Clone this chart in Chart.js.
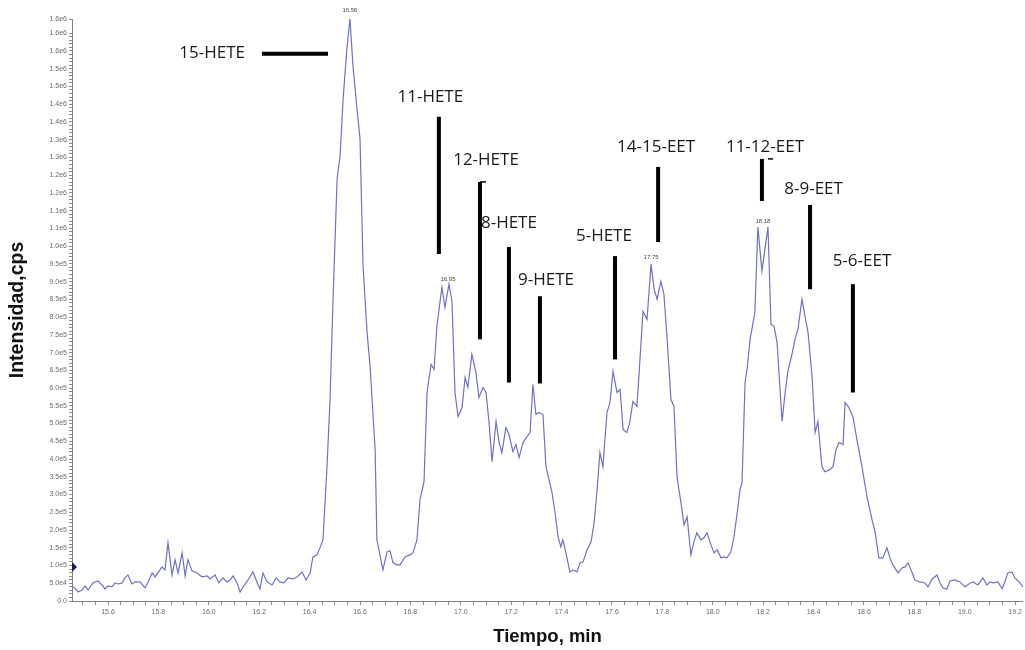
<!DOCTYPE html>
<html><head><meta charset="utf-8">
<script src="https://cdn.jsdelivr.net/npm/chart.js@4/dist/chart.umd.min.js"></script>
<style>html,body{margin:0;padding:0;background:#fff;}#wrap{width:1025px;height:650px;}</style>
</head><body><div id="wrap"><canvas id="c" width="1025" height="650"></canvas></div>
<script>
// Retention time (min)
const times = [
15.457,15.469,15.481,15.497,15.509,15.521,15.537,15.548,15.560,15.576,15.588,15.600,
15.616,15.628,15.640,15.656,15.667,15.679,15.695,15.707,15.727,15.747,15.759,15.775,
15.787,15.798,15.814,15.826,15.838,15.854,15.866,15.878,15.894,15.906,15.917,15.933,
15.953,15.973,15.993,16.005,16.025,16.040,16.056,16.072,16.084,16.096,16.112,16.124,
16.136,16.156,16.175,16.191,16.203,16.215,16.231,16.251,16.267,16.283,16.298,16.314,
16.334,16.350,16.370,16.386,16.402,16.413,16.429,16.441,16.453,
16.469,16.481,16.493,16.509,16.521,16.533,16.548,16.560,16.572,16.588,16.600,16.612,16.628,16.640,16.660,
16.667,16.679,16.691,16.707,16.719,16.731,16.747,16.759,16.778,16.798,16.810,16.826,
16.838,16.854,16.866,16.882,16.894,16.905,16.925,16.937,16.953,16.965,16.977,16.989,
17.005,17.017,17.028,17.044,17.060,17.072,17.088,17.100,17.112,17.124,17.140,17.152,
17.163,17.179,17.191,17.207,17.219,17.231,17.247,17.263,17.275,17.286,17.298,17.310,17.326,
17.338,17.362,17.374,17.386,17.397,17.405,17.417,17.433,17.445,17.461,17.473,17.485,
17.501,17.517,17.529,17.540,17.552,17.564,17.580,17.592,17.604,17.620,17.632,17.644,
17.659,17.671,17.683,17.699,17.711,17.723,17.739,17.755,17.767,17.779,17.794,17.806,17.818,
17.834,17.846,17.858,17.870,17.886,17.898,17.913,17.925,17.937,17.953,17.965,17.977,
17.993,18.005,18.017,18.033,18.044,18.056,18.072,18.084,18.096,18.108,18.116,
18.128,18.136,18.148,18.160,18.167,18.179,18.195,18.207,18.219,18.231,18.243,18.255,
18.275,18.287,18.298,18.314,18.326,18.338,18.354,18.366,18.378,18.394,18.406,18.417,
18.433,18.445,18.465,18.477,18.489,18.501,18.517,18.525,18.540,18.556,18.572,18.592,18.612,
18.632,18.644,18.659,18.675,18.691,18.703,18.715,18.735,18.751,18.763,18.775,18.790,
18.802,18.822,18.842,18.854,18.870,18.890,18.902,18.913,18.929,18.941,18.961,18.981,
19.001,19.021,19.033,19.052,19.072,19.088,19.100,19.112,19.132,19.148,19.159,19.171,19.187,19.199,19.219,19.231
];
// Intensity (cps)
const intensities = [
39600,36700,25400,31100,42400,31100,48000,53700,56500,45200,33900,42400,
39600,50900,48000,50900,65000,73500,48000,53700,53700,36700,53700,79100,
67800,79100,96100,87600,163900,73500,115800,79100,135600,70600,115800,84800,
79100,67800,70600,62200,73500,50900,65000,53700,59300,70600,50900,25400,
39600,59300,81900,53700,33900,79100,53700,45200,65000,53700,50900,65000,
62200,67800,81900,59300,79100,124300,130000,149700,172300,
378600,567800,850300,1189300,1254300,1415300,1556600,1640000,1508600,1387100,1302300,943600,757100,661100,426600,
172300,130000,87600,138400,141300,107400,101700,101700,124300,130000,135600,172300,
285300,336200,587600,666700,652600,774100,884200,827700,892700,844700,587600,519800,
545200,630000,601700,695000,644100,573500,601700,587600,502900,392700,505700,446400,
418100,488700,469000,420900,440700,404000,446400,463300,474600,610200,525500,531100,525500,
378600,305100,248600,180800,152600,172300,135600,81900,87600,81900,107400,110200,
144100,166700,220400,305100,418100,378600,531100,559400,646900,587600,596100,483100,
474600,505700,562200,548100,680800,816400,793800,949200,878600,850300,901200,864500,745800,
567800,548100,350300,293800,214700,237300,130000,166700,192100,172300,178000,192100,
158200,135600,144100,121500,124300,121500,138400,180800,243000,313600,333400,
615900,652600,737300,785400,813600,1053700,929400,991600,1053700,779700,774100,728900,
505700,587600,646900,695000,737300,765600,850300,802300,757100,632800,474600,505700,
378600,364400,370100,378600,426600,446400,440700,559400,545200,519800,454800,378600,293800,
228800,194900,121500,121500,149700,121500,101700,79100,93200,96100,107400,81900,
59300,53700,50900,39600,62200,73500,50900,36700,33900,56500,59300,53700,
39600,50900,53700,45200,65000,45200,53700,50900,53700,33900,53700,79100,81900,65000,50900,39600
];

// Axis ranges
const xMin = 15.457, xMax = 19.231;
const yMax = 1640000;

// Apex retention-time labels
const apexLabels = ['16.56','16.95','17.75','18.18'];
const apexTimes = [16.560,16.949,17.755,18.199];
const apexValues = [1664000,906800,969000,1070700];

// Compound names
const peakNames = ['15-HETE','11-HETE','12-HETE','8-HETE','9-HETE','5-HETE','14-15-EET','11-12-EET','8-9-EET','5-6-EET'];
const nameTimes = [16.013,16.879,17.100,17.191,17.338,17.568,17.775,18.207,18.400,18.592];
const nameValues = [1542400,1421000,1243000,1065000,904000,1028300,1279700,1279700,1161100,957700];

// Marker bars (from t1,v1 to t2,v2) and their thickness
const markT1 = [16.211,16.913,17.076,17.191,17.314,17.612,17.783,18.195,18.386,18.556,17.076,18.219];
const markT2 = [16.473,16.913,17.076,17.191,17.314,17.612,17.783,18.195,18.386,18.556,17.100,18.239];
const markV1 = [1542400,1364500,1180900,997200,858800,971800,1223200,1245800,1115900,892700,1180900,1245800];
const markV2 = [1542400,977500,737300,615900,613000,680800,1011400,1127200,878600,587600,1180900,1245800];
const markW  = [4,4,4,4,4,4,4,4,4,4,1.5,1.5];

// Y-axis threshold marker
const thresholdValue = 96000;

const annot = {
  id: 'annot',
  afterDatasetsDraw(chart) {
    const {ctx, scales: {x, y}, chartArea} = chart;
    ctx.save();
    ctx.strokeStyle = '#000';
    ctx.lineCap = 'butt';
    for (let i = 0; i < markT1.length; i++) {
      ctx.lineWidth = markW[i];
      ctx.beginPath();
      ctx.moveTo(x.getPixelForValue(markT1[i]), y.getPixelForValue(markV1[i]));
      ctx.lineTo(x.getPixelForValue(markT2[i]), y.getPixelForValue(markV2[i]));
      ctx.stroke();
    }
    ctx.fillStyle = '#1a1a1a';
    ctx.font = '17px "Open Sans"';
    ctx.textAlign = 'center';
    ctx.textBaseline = 'middle';
    for (let i = 0; i < peakNames.length; i++) {
      ctx.fillText(peakNames[i], x.getPixelForValue(nameTimes[i]), y.getPixelForValue(nameValues[i]));
    }
    ctx.fillStyle = '#444';
    ctx.font = '6px "Liberation Sans"';
    for (let i = 0; i < apexLabels.length; i++) {
      ctx.fillText(apexLabels[i], x.getPixelForValue(apexTimes[i]), y.getPixelForValue(apexValues[i]));
    }
    const py = y.getPixelForValue(thresholdValue);
    ctx.fillStyle = '#1c1c50';
    ctx.beginPath();
    ctx.moveTo(chartArea.left, py - 5);
    ctx.lineTo(chartArea.left + 5, py);
    ctx.lineTo(chartArea.left, py + 5);
    ctx.closePath();
    ctx.fill();
    ctx.restore();
  }
};

new Chart(document.getElementById('c'), {
  type: 'line',
  data: {
    datasets: [{
      data: times.map((t, i) => ({x: t, y: intensities[i]})),
      borderColor: 'rgb(112,112,198)',
      borderWidth: 1.2,
      pointRadius: 0,
      tension: 0,
      fill: false
    }]
  },
  options: {
    responsive: false,
    animation: false,
    devicePixelRatio: 1,
    layout: {padding: {top: 19, right: 2, left: 0, bottom: 0}},
    plugins: {legend: {display: false}, tooltip: {enabled: false}},
    scales: {
      x: {
        type: 'linear', min: xMin, max: xMax,
        afterBuildTicks: s => {
          const t = [];
          for (let k = Math.ceil(xMin * 20); k <= Math.floor(xMax * 20); k++) t.push({value: k / 20});
          s.ticks = t;
        },
        afterFit: s => { s.height = 49; },
        ticks: {
          autoSkip: false, maxRotation: 0, color: '#6a6a6a', padding: 3,
          font: {size: 7, family: 'Liberation Sans'},
          callback: v => (Math.abs(v * 5 - Math.round(v * 5)) < 1e-6 ? v.toFixed(1) : '')
        },
        grid: {drawOnChartArea: false, drawTicks: true, tickLength: 4, color: '#8a8a8a'},
        border: {color: '#808080', width: 1},
        title: {display: true, text: 'Tiempo, min', color: '#111',
          font: {size: 18.5, weight: 'bold', family: 'Liberation Sans'}, padding: {top: 0, bottom: 2}}
      },
      y: {
        type: 'linear', min: 0, max: yMax,
        afterBuildTicks: s => {
          const t = [];
          for (let v = 0; v <= 1600000; v += 10000) t.push({value: v});
          t.push({value: yMax});
          s.ticks = t;
        },
        afterFit: s => { s.width = 72; },
        ticks: {
          autoSkip: false, color: '#6a6a6a', padding: 2,
          font: {size: 7, family: 'Liberation Sans'},
          callback: v => {
            if (v === 0) return '0.0';
            if (v % 50000 === 0 || v === yMax) return v.toExponential(1).replace('e+', 'e');
            return '';
          }
        },
        grid: {drawOnChartArea: false, drawTicks: true, tickLength: 3, color: '#8a8a8a'},
        border: {color: '#808080', width: 1},
        title: {display: true, text: 'Intensidad,cps', color: '#111',
          font: {size: 19.5, weight: 'bold', family: 'Liberation Sans'}, padding: {top: 6, bottom: 0}}
      }
    }
  },
  plugins: [annot]
});
</script>
</body></html>
